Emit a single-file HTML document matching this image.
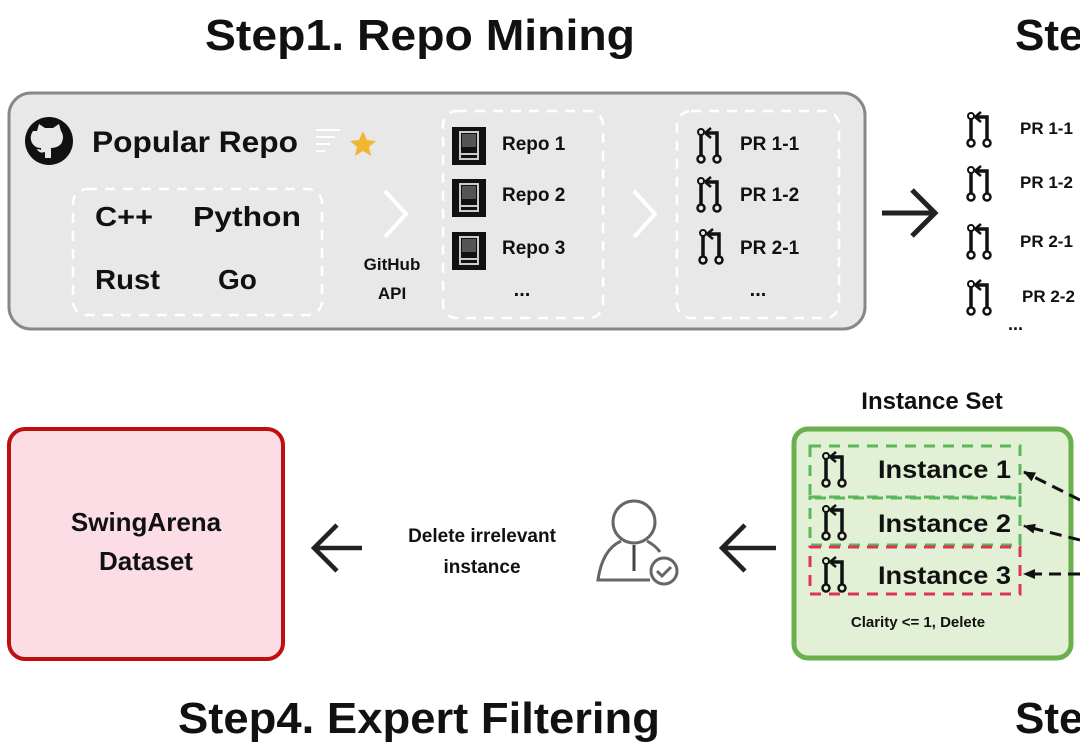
<!DOCTYPE html>
<html><head><meta charset="utf-8"><style>
html,body{margin:0;padding:0;background:#fff;}
svg{display:block;}
text{font-family:"Liberation Sans",sans-serif;font-weight:bold;fill:#111;}
</style></head><body>
<svg width="1080" height="744" viewBox="0 0 1080 744" xmlns="http://www.w3.org/2000/svg">
<defs>
<g id="pr" fill="none" stroke="#111" stroke-width="3.5">
  <circle cx="4" cy="4" r="3" stroke-width="2"/>
  <line x1="4" y1="7" x2="4" y2="28"/>
  <circle cx="4" cy="31" r="3.5" stroke-width="2.5"/>
  <path d="M9 5 H20 V28"/>
  <path d="M8 5 l6 -5 M8 5 l6 5" stroke-width="2.5"/>
  <circle cx="20" cy="31" r="3.5" stroke-width="2.5"/>
</g>
<g id="repo">
  <rect x="0" y="0" width="34" height="38" fill="#111"/>
  <rect x="8" y="5" width="18" height="22" fill="none" stroke="#ccc" stroke-width="2"/>
  <rect x="10" y="7" width="14" height="13" fill="#555"/>
  <path d="M8 27 v5 h18 v-5" fill="none" stroke="#ccc" stroke-width="2"/>
</g>
<marker id="ah" markerUnits="userSpaceOnUse" markerWidth="12" markerHeight="10" refX="11" refY="5" orient="auto"><path d="M0 0 L12 5 L0 10 Z" fill="#111"/></marker>
</defs>

<text x="205" y="50" font-size="44" textLength="430" lengthAdjust="spacingAndGlyphs">Step1. Repo Mining</text>
<text x="1015" y="50" font-size="44">Ste</text>

<rect x="9" y="93" width="856" height="236" rx="22" fill="#e8e8e8" stroke="#888" stroke-width="3"/>
<circle cx="49" cy="141" r="24" fill="#111"/>
<path d="M37 131 l2 -7 l6 4 h8 l6 -4 l2 7 q4 6 0 13 q-4 4 -10 4 v10 h-6 v-6 q-6 2 -8 -3 q2 0 4 1 v-2 q-6 0 -9 -5 q-3 -6 1 -12z" fill="#e8e8e8"/>
<text x="92" y="152" font-size="30" textLength="206" lengthAdjust="spacingAndGlyphs">Popular Repo</text>
<g stroke="#fff" stroke-width="2"><line x1="316" y1="130" x2="340" y2="130"/><line x1="316" y1="137" x2="335" y2="137"/><line x1="316" y1="144" x2="330" y2="144"/><line x1="316" y1="151" x2="325" y2="151"/></g>
<path d="M363 131 l4 9 l9 1 l-7 6 l2 9 l-8 -5 l-8 5 l2 -9 l-7 -6 l9 -1z" fill="#f2b632"/>
<rect x="73" y="189" width="249" height="126" rx="14" fill="none" stroke="#fff" stroke-width="2.5" stroke-dasharray="10 8"/>
<text x="95" y="226" font-size="28" textLength="58" lengthAdjust="spacingAndGlyphs">C++</text>
<text x="193" y="226" font-size="28" textLength="108" lengthAdjust="spacingAndGlyphs">Python</text>
<text x="95" y="289" font-size="28" textLength="65" lengthAdjust="spacingAndGlyphs">Rust</text>
<text x="218" y="289" font-size="28">Go</text>
<path d="M385 191 L406 214 L385 237" fill="none" stroke="#fff" stroke-width="4"/>
<text x="392" y="270" font-size="17" text-anchor="middle">GitHub</text>
<text x="392" y="299" font-size="17" text-anchor="middle">API</text>
<rect x="443" y="111" width="160" height="207" rx="14" fill="none" stroke="#fff" stroke-width="2.5" stroke-dasharray="10 8"/>
<use href="#repo" x="452" y="127"/><use href="#repo" x="452" y="179"/><use href="#repo" x="452" y="232"/>
<text x="502" y="150" font-size="19">Repo 1</text>
<text x="502" y="201" font-size="19">Repo 2</text>
<text x="502" y="254" font-size="19">Repo 3</text>
<text x="522" y="296" font-size="20" text-anchor="middle">...</text>
<path d="M634 191 L655 214 L634 237" fill="none" stroke="#fff" stroke-width="4"/>
<rect x="677" y="111" width="162" height="207" rx="14" fill="none" stroke="#fff" stroke-width="2.5" stroke-dasharray="10 8"/>
<use href="#pr" x="697" y="128"/><use href="#pr" x="697" y="177"/><use href="#pr" x="699" y="229"/>
<text x="740" y="150" font-size="19">PR 1-1</text>
<text x="740" y="201" font-size="19">PR 1-2</text>
<text x="740" y="254" font-size="19">PR 2-1</text>
<text x="758" y="296" font-size="20" text-anchor="middle">...</text>

<path d="M882 213 H932 M912 190 L935 213 L912 236" fill="none" stroke="#222" stroke-width="5"/>
<use href="#pr" x="967" y="112"/><use href="#pr" x="967" y="166"/><use href="#pr" x="967" y="224"/><use href="#pr" x="967" y="280"/>
<text x="1020" y="134" font-size="17">PR 1-1</text>
<text x="1020" y="188" font-size="17">PR 1-2</text>
<text x="1020" y="247" font-size="17">PR 2-1</text>
<text x="1022" y="302" font-size="17">PR 2-2</text>
<text x="1008" y="330" font-size="18">...</text>

<rect x="9" y="429" width="274" height="230" rx="16" fill="#fcdde6" stroke="#c00f0f" stroke-width="4"/>
<text x="146" y="531" font-size="26" text-anchor="middle">SwingArena</text>
<text x="146" y="570" font-size="26" text-anchor="middle">Dataset</text>
<path d="M362 548 H316 M337 525 L314 548 L337 571" fill="none" stroke="#222" stroke-width="4.5"/>
<text x="482" y="542" font-size="19" text-anchor="middle">Delete irrelevant</text>
<text x="482" y="573" font-size="19" text-anchor="middle">instance</text>
<g fill="none" stroke="#666" stroke-width="3">
<circle cx="634" cy="522" r="21"/>
<path d="M621 541 Q602 550 598 580 H650 M647 541 Q656 546 660 552"/>
<circle cx="664" cy="571" r="13" fill="#fff"/>
<path d="M657 571 l5 5 l9 -9"/>
</g>
<path d="M634 545 v26" stroke="#444" stroke-width="3"/>
<path d="M776 548 H722 M745 525 L722 548 L745 571" fill="none" stroke="#222" stroke-width="4.5"/>

<text x="932" y="409" font-size="24" text-anchor="middle">Instance Set</text>
<rect x="794" y="429" width="277" height="229" rx="14" fill="#e2f0d6" stroke="#6ab04c" stroke-width="5"/>
<rect x="810" y="446" width="210" height="52" fill="none" stroke="#5ab85a" stroke-width="3" stroke-dasharray="11 8"/>
<rect x="810" y="497" width="210" height="48" fill="none" stroke="#5ab85a" stroke-width="3" stroke-dasharray="11 8"/>
<rect x="810" y="547" width="210" height="47" fill="none" stroke="#dd3355" stroke-width="3" stroke-dasharray="11 8"/>
<use href="#pr" x="822" y="452"/><use href="#pr" x="822" y="505"/><use href="#pr" x="822" y="557"/>
<text x="878" y="478" font-size="25" textLength="133" lengthAdjust="spacingAndGlyphs">Instance 1</text>
<text x="878" y="532" font-size="25" textLength="133" lengthAdjust="spacingAndGlyphs">Instance 2</text>
<text x="878" y="584" font-size="25" textLength="133" lengthAdjust="spacingAndGlyphs">Instance 3</text>
<text x="918" y="627" font-size="15" text-anchor="middle">Clarity &lt;= 1, Delete</text>
<g fill="none" stroke="#111" stroke-width="3" stroke-dasharray="12 7">
<path d="M1080 500 L1024 472" marker-end="url(#ah)"/>
<path d="M1080 540 L1024 526" marker-end="url(#ah)"/>
<path d="M1080 574 L1024 574" marker-end="url(#ah)"/>
</g>

<text x="178" y="733" font-size="44" textLength="482" lengthAdjust="spacingAndGlyphs">Step4. Expert Filtering</text>
<text x="1015" y="733" font-size="44">Ste</text>
</svg>
</body></html>
